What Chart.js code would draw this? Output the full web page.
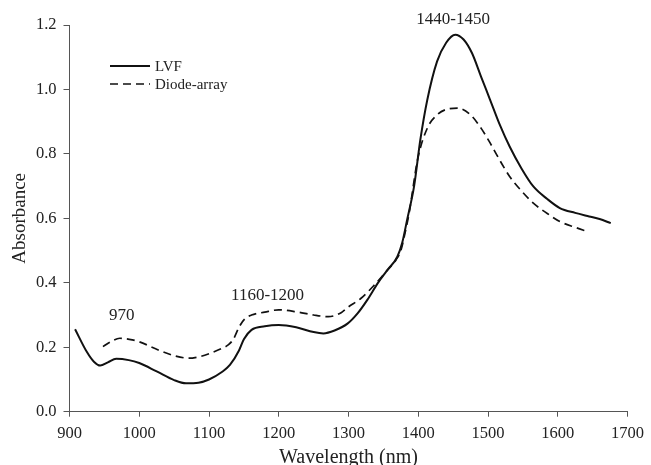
<!DOCTYPE html>
<html>
<head>
<meta charset="utf-8">
<script src="https://cdn.jsdelivr.net/npm/chart.js@4.4.0/dist/chart.umd.min.js"></script>
<style>
html,body{margin:0;padding:0;background:#fff;}
#wrap{width:651px;height:465px;position:relative;}
</style>
</head>
<body>
<div id="wrap"><canvas id="c" width="651" height="465"></canvas></div>
<script>
// ---- data ----
const lvfX = [908,925,935,944,955,967,985,1000,1025,1050,1067,1085,1100,1119,1130,1143,1150,1161,1180,1200,1225,1250,1264,1280,1299,1313,1327,1342,1356,1370,1377,1384,1394,1403,1413,1427,1440,1453,1465,1477,1490,1503,1517,1531,1548,1565,1585,1603,1625,1645,1660,1676];
const lvfY = [0.256,0.185,0.155,0.143,0.153,0.164,0.160,0.151,0.125,0.098,0.088,0.090,0.100,0.124,0.145,0.190,0.225,0.254,0.265,0.269,0.262,0.247,0.243,0.252,0.274,0.305,0.347,0.399,0.440,0.481,0.524,0.595,0.699,0.844,0.968,1.087,1.145,1.170,1.155,1.113,1.040,0.968,0.890,0.823,0.755,0.699,0.660,0.632,0.617,0.606,0.598,0.585];
const daX = [948,960,972,990,1000,1029,1050,1071,1085,1100,1119,1128,1135,1143,1151,1161,1180,1200,1225,1250,1271,1290,1299,1318,1337,1356,1368,1375,1382,1387,1399,1413,1427,1440,1456,1475,1490,1503,1517,1531,1548,1565,1585,1603,1625,1643];
const daY = [0.202,0.218,0.228,0.223,0.217,0.190,0.174,0.166,0.170,0.180,0.197,0.208,0.225,0.262,0.287,0.300,0.309,0.316,0.310,0.300,0.295,0.308,0.324,0.352,0.393,0.440,0.471,0.500,0.564,0.617,0.782,0.880,0.921,0.938,0.942,0.921,0.880,0.834,0.780,0.730,0.685,0.647,0.615,0.590,0.572,0.559];
const seriesNames = ['LVF','Diode-array'];
const xTicks = [900,1000,1100,1200,1300,1400,1500,1600,1700];
const yTicks = [0.0,0.2,0.4,0.6,0.8,1.0,1.2];
const annoText = ['970','1160-1200','1440-1450'];
const annoX = [975,1184,1450];
const annoY = [0.297,0.362,1.216];

const toPts = (xs, ys) => xs.map((x, i) => ({x: x, y: ys[i]}));
const FONT = "'Liberation Serif','Times New Roman',serif";
const INK = '#222';
const AX = '#555';

const overlay = {
  id: 'overlay',
  afterDraw(chart) {
    const ctx = chart.ctx;
    const xs = chart.scales.x, ys = chart.scales.y;
    ctx.save();
    // annotations
    ctx.fillStyle = INK;
    ctx.font = '17px ' + FONT;
    ctx.textAlign = 'center';
    ctx.textBaseline = 'middle';
    annoText.forEach((t, i) => {
      ctx.fillText(t, xs.getPixelForValue(annoX[i]), ys.getPixelForValue(annoY[i]));
    });
    // legend
    const lx0 = 110, lx1 = 150, ly = [66, 84];
    chart.data.datasets.forEach((ds, i) => {
      ctx.strokeStyle = ds.borderColor;
      ctx.lineWidth = ds.borderWidth;
      ctx.setLineDash(ds.borderDash || []);
      ctx.beginPath();
      ctx.moveTo(lx0, ly[i]);
      ctx.lineTo(lx1, ly[i]);
      ctx.stroke();
      ctx.setLineDash([]);
      ctx.fillStyle = INK;
      ctx.font = '15px ' + FONT;
      ctx.textAlign = 'left';
      ctx.textBaseline = 'middle';
      ctx.fillText(ds.label, 155, ly[i] + 1);
    });
    ctx.restore();
  }
};

new Chart(document.getElementById('c'), {
  type: 'line',
  data: {
    datasets: [
      {label: seriesNames[0], data: toPts(lvfX, lvfY), borderColor: '#111', borderWidth: 2, pointRadius: 0, fill: false, cubicInterpolationMode: 'monotone'},
      {label: seriesNames[1], data: toPts(daX, daY), borderColor: '#111', borderWidth: 1.7, borderDash: [8,5], pointRadius: 0, fill: false, cubicInterpolationMode: 'monotone'}
    ]
  },
  options: {
    responsive: false,
    animation: false,
    layout: {padding: {left: 0, top: 25, right: 19, bottom: 0}},
    plugins: {legend: {display: false}, tooltip: {enabled: false}},
    scales: {
      x: {
        type: 'linear', min: 900, max: 1700,
        afterFit: s => { s.height = 53.3; },
        afterBuildTicks: s => { s.ticks = xTicks.map(v => ({value: v})); },
        grid: {drawOnChartArea: false, drawTicks: true, tickLength: 5, color: AX},
        border: {display: true, color: AX, width: 1},
        ticks: {color: INK, padding: 7, maxRotation: 0, font: {family: FONT, size: 16.5}, callback: v => String(v)},
        title: {display: true, text: 'Wavelength (nm)', color: INK, padding: 0, font: {family: FONT, size: 20, lineHeight: 0.7}}
      },
      y: {
        type: 'linear', min: 0, max: 1.2,
        afterFit: s => { s.width = 69.5; },
        afterBuildTicks: s => { s.ticks = yTicks.map(v => ({value: v})); },
        grid: {drawOnChartArea: false, drawTicks: true, tickLength: 6, color: AX},
        border: {display: true, color: AX, width: 1},
        ticks: {color: INK, padding: 7, font: {family: FONT, size: 16.5}, callback: v => Number(v).toFixed(1)},
        title: {display: true, text: 'Absorbance', color: INK, padding: {top: 9, bottom: 0}, font: {family: FONT, size: 19}}
      }
    }
  },
  plugins: [overlay]
});
</script>
</body>
</html>
